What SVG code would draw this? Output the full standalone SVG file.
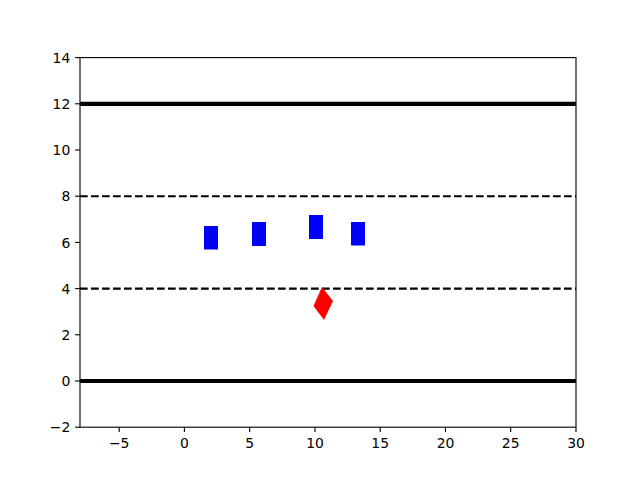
<svg xmlns="http://www.w3.org/2000/svg" width="640" height="480" viewBox="0 0 640 480">
<style>
.tick{stroke:#000;stroke-width:1.11}
.lbl{font-family:"DejaVu Sans",sans-serif;font-size:13.9px;fill:#000}
.yl{text-anchor:end}
.xl{text-anchor:middle}
.thick{stroke:#000;stroke-width:4.17}
.dash{stroke:#000;stroke-width:2.08;stroke-dasharray:7.7 3.3}
.car{fill:#0000ff}
</style>
<rect x="0" y="0" width="640" height="480" fill="#fff"/>
<g id="connectors">
<line class="thick" x1="80" y1="103.8" x2="576" y2="103.8"/>
<line class="thick" x1="80" y1="381" x2="576" y2="381"/>
<line class="dash" x1="80" y1="196.2" x2="576" y2="196.2"/>
<line class="dash" x1="80" y1="288.6" x2="576" y2="288.6"/>
</g>
<g id="vehicles">
<rect class="car" x="204" y="226" width="14" height="23.5"/>
<rect class="car" x="252" y="222" width="14" height="24"/>
<rect class="car" x="309" y="215" width="14" height="24"/>
<rect class="car" x="351" y="222" width="14" height="23.5"/>
</g>
<g id="ego">
<polygon points="322,287 333,301 324,320 313.5,306" fill="#ff0000"/>
</g>
<g id="axes">
<rect x="80" y="57.6" width="496" height="369.6" fill="none" stroke="#000" stroke-width="1.11"/>
<g class="tick">
<line x1="80" y1="427.2" x2="75.1" y2="427.2"/>
<line x1="80" y1="381" x2="75.1" y2="381"/>
<line x1="80" y1="334.8" x2="75.1" y2="334.8"/>
<line x1="80" y1="288.6" x2="75.1" y2="288.6"/>
<line x1="80" y1="242.4" x2="75.1" y2="242.4"/>
<line x1="80" y1="196.2" x2="75.1" y2="196.2"/>
<line x1="80" y1="150" x2="75.1" y2="150"/>
<line x1="80" y1="103.8" x2="75.1" y2="103.8"/>
<line x1="80" y1="57.6" x2="75.1" y2="57.6"/>
<line x1="119.2" y1="427.2" x2="119.2" y2="432.1"/>
<line x1="184.4" y1="427.2" x2="184.4" y2="432.1"/>
<line x1="249.7" y1="427.2" x2="249.7" y2="432.1"/>
<line x1="315" y1="427.2" x2="315" y2="432.1"/>
<line x1="380.2" y1="427.2" x2="380.2" y2="432.1"/>
<line x1="445.5" y1="427.2" x2="445.5" y2="432.1"/>
<line x1="510.7" y1="427.2" x2="510.7" y2="432.1"/>
<line x1="576" y1="427.2" x2="576" y2="432.1"/>
</g>
<g class="lbl yl">
<text x="70.3" y="432.3">−2</text>
<text x="70.3" y="386.1">0</text>
<text x="70.3" y="339.9">2</text>
<text x="70.3" y="293.7">4</text>
<text x="70.3" y="247.5">6</text>
<text x="70.3" y="201.3">8</text>
<text x="70.3" y="155.1">10</text>
<text x="70.3" y="108.9">12</text>
<text x="70.3" y="62.7">14</text>
</g>
<g class="lbl xl">
<text x="119.2" y="447.5">−5</text>
<text x="184.4" y="447.5">0</text>
<text x="249.7" y="447.5">5</text>
<text x="315" y="447.5">10</text>
<text x="380.2" y="447.5">15</text>
<text x="445.5" y="447.5">20</text>
<text x="510.7" y="447.5">25</text>
<text x="576" y="447.5">30</text>
</g>
</g>
</svg>
